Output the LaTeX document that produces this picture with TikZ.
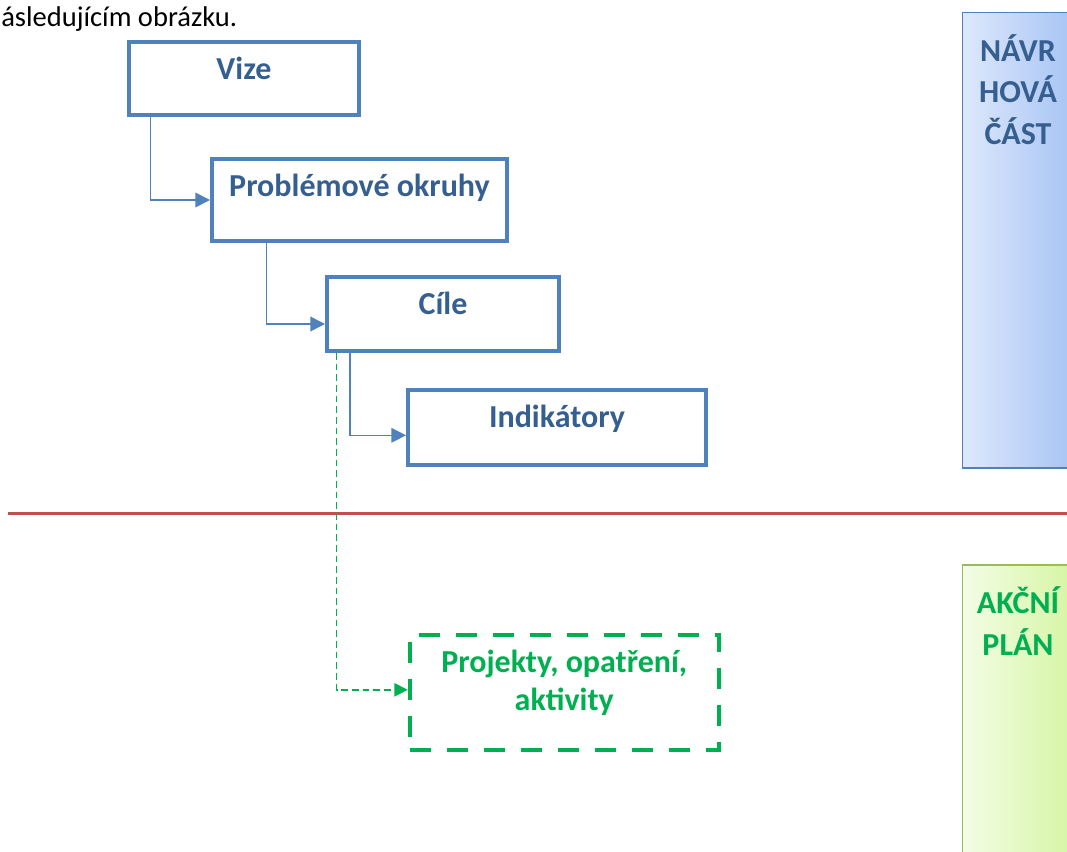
\documentclass[tikz,border=0pt]{standalone}
\usepackage{fontspec}
\setmainfont{Carlito}
\usetikzlibrary{arrows.meta,positioning}

\definecolor{boxblue}{HTML}{4F81BD}
\definecolor{textblue}{HTML}{365F91}
\definecolor{plangreen}{HTML}{00B050}
\definecolor{cutred}{HTML}{C0504D}
\definecolor{partgreen}{HTML}{9BBB59}
\definecolor{navleft}{HTML}{DDE8FB}
\definecolor{navright}{HTML}{A7C4F4}
\definecolor{akleft}{HTML}{F2FDE6}
\definecolor{akright}{HTML}{D6F5A4}

\begin{document}
\begin{tikzpicture}[
    x=0.75pt, y=-0.75pt,
    stage/.style={draw=boxblue, line width=3pt, align=center, text=textblue,
      font=\fontsize{24}{28.5}\selectfont\bfseries, inner ysep=0pt, text height=28pt},
    planbox/.style={stage, draw=plangreen, text=plangreen, dash pattern=on 15.75pt off 12pt},
    partbox/.style={draw, line width=1.1pt, align=center, inner ysep=0pt,
      font=\fontsize{24}{31}\selectfont\bfseries, minimum width=83pt},
    link/.style={draw=boxblue, line width=1.1pt, -{Triangle[length=11pt,width=11pt]}},
    planlink/.style={draw=plangreen, line width=1pt, dash pattern=on 5pt off 3pt,
      -{Triangle[length=10pt,width=10pt]}}
  ]
  \useasboundingbox (0,0) rectangle (1067,852);

  \node[anchor=base west, inner sep=0pt, font=\fontsize{21.4}{26}\selectfont] (intro)
    at (1,26.7) {ásledujícím obrázku.};

  % design part
  \node[partbox, draw=boxblue, left color=navleft, right color=navright, text=textblue,
    text height=98.5pt, text depth=243pt] (navrh) at (1018,240.35) {NÁVR\\HOVÁ\\ČÁST};
  \node[partbox, draw=partgreen, left color=akleft, right color=akright, text=plangreen,
    text height=67.5pt, text depth=168.75pt] (akce) at (1018,722.5) {AKČNÍ\\PLÁN};

  \draw[cutred, line width=2.25pt] (8,513.3) -- (1067,513.3);

  \node[stage, minimum width=172.5pt, text depth=26.75pt] (vize) at (244,78.5) {Vize};
  \node[stage, minimum width=221.25pt, text depth=33.5pt,
    below right=30pt and 62.25pt of vize.south west] (okruhy) {Problémové okruhy};
  \node[stage, minimum width=174pt, text depth=27.5pt,
    below right=24pt and 86.25pt of okruhy.south west] (cile) {Cíle};
  \node[stage, minimum width=223.5pt, text depth=28.25pt,
    below right=26.25pt and 60.75pt of cile.south west] (indik) {Indikátory};
  \node[planbox, minimum width=231.75pt, text height=56.5pt, text depth=29.75pt,
    below right=124.3pt and 1.3pt of indik.south west] (projekty) {Projekty, opatření,\\aktivity};

  \draw[link] ([xshift=17.8pt]vize.south west) |- (okruhy.west);
  \draw[link] ([xshift=42.5pt]okruhy.south west) |- ([yshift=-7.5pt]cile.west);
  \draw[link] ([xshift=18.75pt]cile.south west) |- ([yshift=-5.85pt]indik.west);
  \draw[planlink] ([xshift=8.8pt]cile.south west) |- ([yshift=1.8pt]projekty.west);
\end{tikzpicture}
\end{document}
